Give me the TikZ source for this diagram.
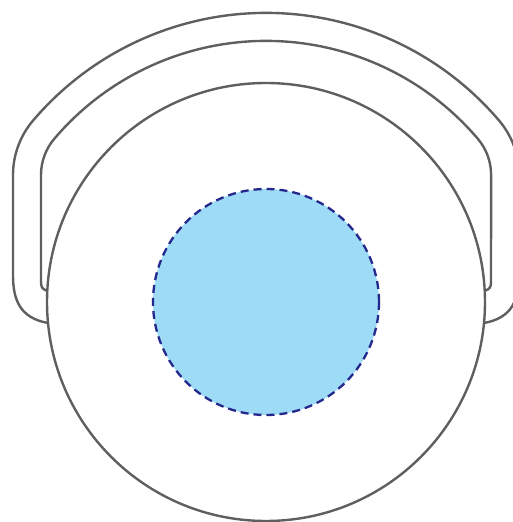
\documentclass[tikz,border=0pt]{standalone}
\definecolor{linegray}{HTML}{5F5F5F}
\definecolor{lensblue}{HTML}{9DDBF7}
\definecolor{dashnavy}{HTML}{24288C}
\begin{document}
\begin{tikzpicture}[x=1pt,y=1pt,
  outline/.style={draw=linegray,line width=2.4pt,line join=round},
  lens/.style={draw=dashnavy,fill=lensblue,line width=2.3pt,dash pattern=on 8pt off 5pt}]
\useasboundingbox (0,0) rectangle (512,522);
% outer arch
\draw[outline] (48,199) .. controls (20,204) and (13,222) .. (13,247) -- (13,347)
  arc[start angle=180,end angle=139.6,radius=84]
  arc[start angle=139.6,end angle=40.4,radius=306]
  arc[start angle=40.4,end angle=0,radius=84]
  -- (519,247) .. controls (519,222) and (512,204) .. (484,199);
% inner arch
\draw[outline] (47.3,231) .. controls (42,233) and (41,235) .. (41,240) -- (41,347)
  arc[start angle=180,end angle=139.6,radius=56]
  arc[start angle=139.6,end angle=40.4,radius=278]
  arc[start angle=40.4,end angle=0,radius=56]
  -- (491,240) .. controls (491,235) and (490,233) .. (484.7,231);
% body
\draw[outline,fill=white] (266,220) circle[radius=219];
% lens
\draw[lens] (266,220) circle[radius=113];
\end{tikzpicture}
\end{document}
